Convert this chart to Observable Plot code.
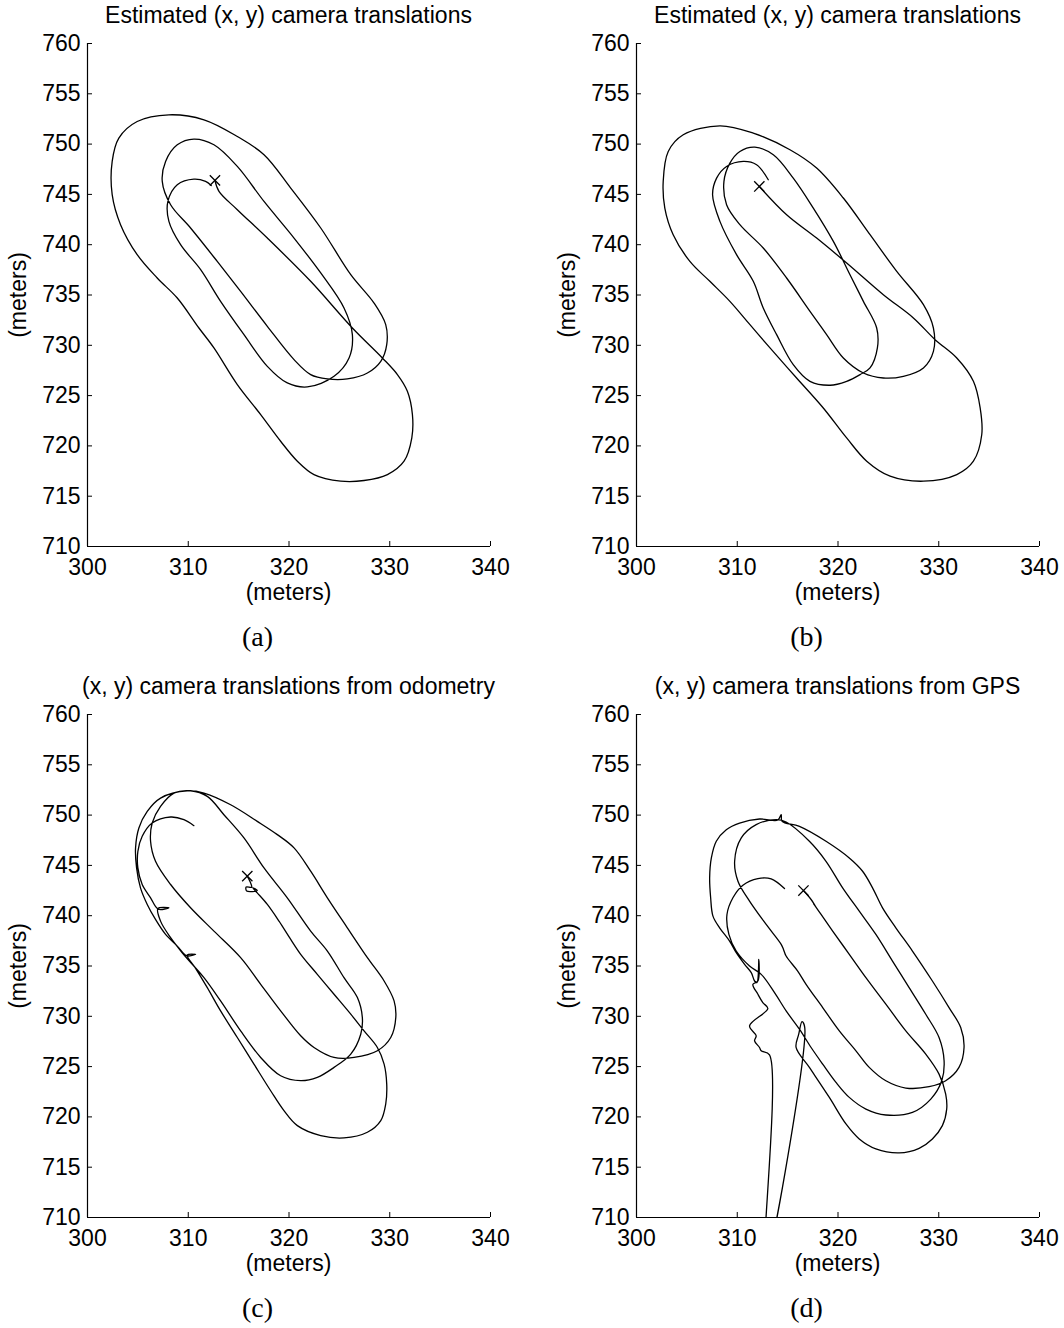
<!DOCTYPE html>
<html>
<head>
<meta charset="utf-8">
<script src="https://cdn.jsdelivr.net/npm/d3@7"></script>
<script src="https://cdn.jsdelivr.net/npm/@observablehq/plot@0.6"></script>
<style>
  body { margin: 0; background: #fff; }
  #page { position: relative; width: 1064px; height: 1328px; background: #fff; color: #000;
          font-family: "Liberation Sans", Arial, Helvetica, sans-serif; overflow: hidden; }
  .t { position: absolute; white-space: nowrap; line-height: 1; transform: translateX(-50%); }
  .sans { font-size: 23px; }
  .cap { font-family: "Liberation Serif", "Times New Roman", serif; font-size: 28px; }
  .ylab { position: absolute; white-space: nowrap; line-height: 1; font-size: 23px;
          transform: translate(-50%, -50%) rotate(-90deg); }
  .panel { position: absolute; width: 532px; height: 620px; }
  .panel svg { max-width: none !important; }
</style>
</head>
<body>
<div id="page"></div>
<script>
// ---------- axis ticks ----------
const xTicks = [300, 310, 320, 330, 340];
const yTicks = [710, 715, 720, 725, 730, 735, 740, 745, 750, 755, 760];

// ---------- titles / captions ----------
const titles = ["Estimated (x, y) camera translations", "Estimated (x, y) camera translations",
                "(x, y) camera translations from odometry", "(x, y) camera translations from GPS"];
const captions = ["(a)", "(b)", "(c)", "(d)"];
const axisLabel = "(meters)";

// ---------- (a) estimated trajectory ----------
const aX = [312.65,313.05,314.87,317.85,322.15,326.29,329.27,330.76,331.75,332.25,332.19,331.42,329.77,327.45,325.13,322.48,320.83,319.17,317.19,314.87,312.55,311.06,308.91,306.92,304.93,303.28,302.45,302.45,303.11,304.93,308.08,311.56,314.87,317.52,320.17,323.15,326.13,328.44,329.6,329.7,329.11,327.78,325.79,323.81,322.15,320.5,317.85,315.2,312.88,310.23,308.25,307.42,307.75,308.91,310.56,312.55,314.87,317.52,320.5,323.15,325.46,326.29,325.96,324.47,321.82,319.83,317.85,315.53,313.21,311.23,309.24,308.08,307.98,308.91,310.56,311.72,312.28];
const aY = [746.39,745.3,743.48,740.66,736.36,731.72,728.74,727.09,725.43,723.11,720.8,718.48,717.15,716.56,716.5,717.15,718.48,720.46,723.11,726.09,729.74,731.72,734.7,736.69,739.01,741.99,744.97,748.28,750.6,752.25,752.91,752.42,750.76,748.94,745.63,741.66,737.02,734.2,732.05,730.07,728.41,727.25,726.66,726.66,727.09,728.58,731.89,735.36,738.34,741.66,743.97,746.29,748.28,749.93,750.5,749.93,747.78,744.3,740.66,737.19,733.71,731.06,728.74,726.92,725.86,726.26,727.91,731.06,734.37,737.52,740.0,742.32,744.3,745.96,746.52,746.29,745.89];
const aStart = [312.65, 746.39];

// ---------- (b) estimated trajectory ----------
const bX = [312.19,314.9,317.88,320.86,324.5,327.48,329.64,331.79,333.44,334.11,334.27,333.44,331.79,328.48,325.17,322.85,320.86,318.54,315.89,313.25,311.26,309.27,307.28,305.3,303.64,302.81,302.65,303.15,304.64,308.28,311.59,315.23,317.88,320.53,323.18,325.83,328.48,329.47,329.47,328.48,326.49,324.5,322.52,320.53,318.87,317.22,314.9,312.58,310.26,308.94,308.68,309.27,310.26,311.75,313.58,315.56,317.55,319.54,321.19,322.52,323.84,323.91,323.18,322.19,320.86,319.21,317.22,315.56,313.91,312.58,311.59,309.93,308.28,307.55,307.95,308.94,310.6,311.92,313.08];
const bY = [745.79,742.98,740.66,738.18,735.03,732.72,730.56,728.74,726.42,723.77,721.13,718.48,717.15,716.49,716.99,718.48,720.79,723.77,726.75,729.74,732.05,734.37,736.36,738.34,740.99,743.64,746.29,749.27,750.93,751.82,751.09,749.44,747.62,744.64,740.99,737.35,734.04,731.72,729.4,727.75,726.92,726.75,727.25,728.74,731.06,733.38,736.69,739.67,741.99,743.97,746.29,748.11,749.27,749.7,748.94,746.62,743.64,740.33,737.02,734.37,731.72,729.74,727.75,727.09,726.42,726.03,726.42,728.08,731.06,733.71,736.36,739.01,742.32,744.97,746.62,747.78,748.28,747.95,746.46];
const bStart = [312.19, 745.79];

// ---------- (c) odometry trajectory ----------
const cX = [315.86,316.19,316.29,315.75,315.8,316.85,316.4,316.85,317.85,319.01,320.17,321.16,322.81,324.47,326.13,327.45,328.77,329.44,329.7,329.6,329.11,327.78,325.46,323.15,320.83,319.5,318.18,316.52,314.87,313.21,311.89,310.73,309.9,310.73,309.83,308.91,307.75,306.75,305.93,305.26,304.87,304.77,305.1,305.93,307.25,309.9,311.56,314.21,316.85,318.84,320.5,322.15,323.81,325.79,327.78,329.44,330.43,330.6,330.1,328.77,326.46,324.47,322.48,321.16,319.17,317.19,315.2,312.55,310.23,308.25,306.75,306.26,306.42,307.25,308.58,310.23,311.89,313.54,315.53,317.52,319.83,322.15,323.81,325.46,326.79,327.28,327.12,326.13,324.47,322.81,321.16,319.17,317.19,315.2,313.21,311.56,310.4,309.4,308.25,307.25,306.99,308.08,307.02,306.26,305.43,305.0,305.0,305.43,306.42,308.25,309.57,310.56];
const cY = [743.93,743.26,742.83,742.85,742.45,742.5,742.78,742.27,741.12,739.46,737.64,736.16,734.17,732.19,730.21,728.55,726.9,725.25,723.26,721.28,719.63,718.47,717.91,718.14,719.13,720.62,722.6,725.25,727.89,730.54,732.85,734.77,736.09,736.16,736.02,736.98,738.14,739.63,741.12,742.77,744.75,746.74,748.72,750.37,751.69,752.42,752.19,751.03,749.38,748.06,746.74,744.42,741.78,738.8,735.83,733.51,731.53,729.88,727.89,726.57,725.91,725.91,726.9,728.06,730.54,733.18,735.83,738.47,740.79,743.1,745.41,747.4,749.21,750.87,752.19,752.42,751.86,750.04,747.73,744.75,741.78,738.47,736.49,733.84,731.86,729.88,728.22,726.24,724.92,723.93,723.6,724.09,725.91,728.55,731.53,733.84,735.17,736.32,737.81,739.46,740.72,740.79,740.65,741.78,743.1,744.75,746.4,747.89,749.21,749.81,749.55,748.95];
const cStart = [315.86, 743.93];

// ---------- (d) GPS trajectory ----------
const dX = [316.57,317.33,317.82,317.59,318.32,319.47,321.12,322.77,324.75,326.73,328.71,330.03,330.69,330.79,330.36,329.37,328.05,326.07,323.76,322.11,320.79,319.14,317.16,315.84,316.1,316.43,316.7,312.74,313.2,312.38,312.21,311.72,311.88,311.22,313.04,312.54,312.05,311.55,312.05,312.14,311.95,311.72,311.39,310.73,309.9,309.24,308.25,307.59,307.36,307.26,307.43,307.92,308.91,310.23,312.21,314.03,314.36,314.45,316.17,318.81,321.12,322.44,323.43,324.42,325.74,327.39,329.37,331.02,332.18,332.51,332.01,330.69,329.04,326.73,324.75,323.1,321.78,320.13,318.48,316.83,316.0,314.85,314.59,314.36,312.87,311.22,310.07,309.74,310.4,311.88,313.86,314.85,317.16,318.81,320.46,322.11,323.76,325.41,327.06,328.71,330.03,330.53,330.3,329.21,327.39,324.75,322.77,321.12,319.8,318.48,317.33,316.17,314.85,313.7,312.38,311.22,309.9,309.17,308.98,309.57,310.56,312.05,313.37,314.69];
const dY = [742.5,741.61,740.85,741.18,740.12,738.47,736.16,733.84,731.2,728.55,726.24,724.25,722.27,720.78,719.13,717.81,716.88,716.42,716.82,717.81,719.3,721.94,724.92,726.9,728.22,729.48,728.88,705.08,726.17,726.57,726.9,727.56,728.06,729.05,730.77,731.36,732.19,733.18,733.51,735.66,733.35,733.51,734.34,735.16,736.32,737.48,738.8,739.96,741.78,743.76,745.74,747.4,748.55,749.21,749.61,749.51,750.04,749.38,748.88,747.4,745.74,744.42,742.77,740.78,738.8,736.49,733.51,730.87,728.88,726.9,724.92,723.59,723.0,722.87,723.59,724.92,726.57,728.55,730.87,733.18,734.5,735.99,736.65,737.15,739.13,741.45,743.43,745.41,747.73,749.05,749.55,749.31,747.4,745.41,742.77,740.45,738.14,735.49,732.85,730.2,727.89,725.58,723.59,721.77,720.45,720.19,720.78,721.94,723.43,725.25,726.9,728.72,730.54,732.35,734.17,735.0,736.49,738.14,740.12,741.78,743.03,743.69,743.66,742.7];
const dStart = [316.57, 742.5];

// ---------- layout ----------
const page = document.getElementById("page");
const W = 532, H = 620;
const M = {left: 87, right: 42, top: 43, bottom: 74};
const offsets = [[0, 0], [549, 0], [0, 671], [549, 671]];
const series = [[aX, aY, aStart], [bX, bY, bStart], [cX, cY, cStart], [dX, dY, dStart]];
const font = '"Liberation Sans", Arial, Helvetica, sans-serif';

function addText(cls, txt, left, top) {
  const el = document.createElement("div");
  el.className = cls;
  el.textContent = txt;
  el.style.left = left + "px";
  el.style.top = top + "px";
  page.appendChild(el);
}

series.forEach(([xs, ys, start], i) => {
  const [ox, oy] = offsets[i];
  const chart = Plot.plot({
    width: W, height: H,
    marginLeft: M.left, marginRight: M.right, marginTop: M.top, marginBottom: M.bottom,
    x: {domain: [300, 340], label: null},
    y: {domain: [710, 760], label: null},
    style: {fontFamily: font, fontSize: "23px", background: "transparent", overflow: "visible", color: "#000", maxWidth: "none"},
    marks: [
      Plot.axisX({ticks: xTicks, tickSize: -5, tickPadding: 17, label: null, fontSize: 23}),
      Plot.axisY({ticks: yTicks, tickSize: -5, tickPadding: 12, label: null, fontSize: 23}),
      Plot.ruleX([300], {stroke: "#000", strokeWidth: 1.2}),
      Plot.ruleY([710], {stroke: "#000", strokeWidth: 1.2}),
      Plot.line(xs, {x: xs, y: ys, stroke: "#000", strokeWidth: 1.3, curve: "catmull-rom", clip: true}),
      Plot.dot([start], {x: d => d[0], y: d => d[1], symbol: "times", r: 4.75, stroke: "#000", strokeWidth: 1.3})
    ]
  });
  const holder = document.createElement("div");
  holder.className = "panel";
  holder.style.left = ox + "px";
  holder.style.top = oy + "px";
  holder.appendChild(chart);
  page.appendChild(holder);

  const cx = ox + (M.left + (W - M.right)) / 2;
  addText("t sans", titles[i], cx, oy + 4);
  addText("t sans", axisLabel, cx, oy + 581);
  addText("t cap", captions[i], ox + 257.5, oy + 623);
  addText("ylab", axisLabel, ox + 18, oy + 294.5);
});
</script>
</body>
</html>
